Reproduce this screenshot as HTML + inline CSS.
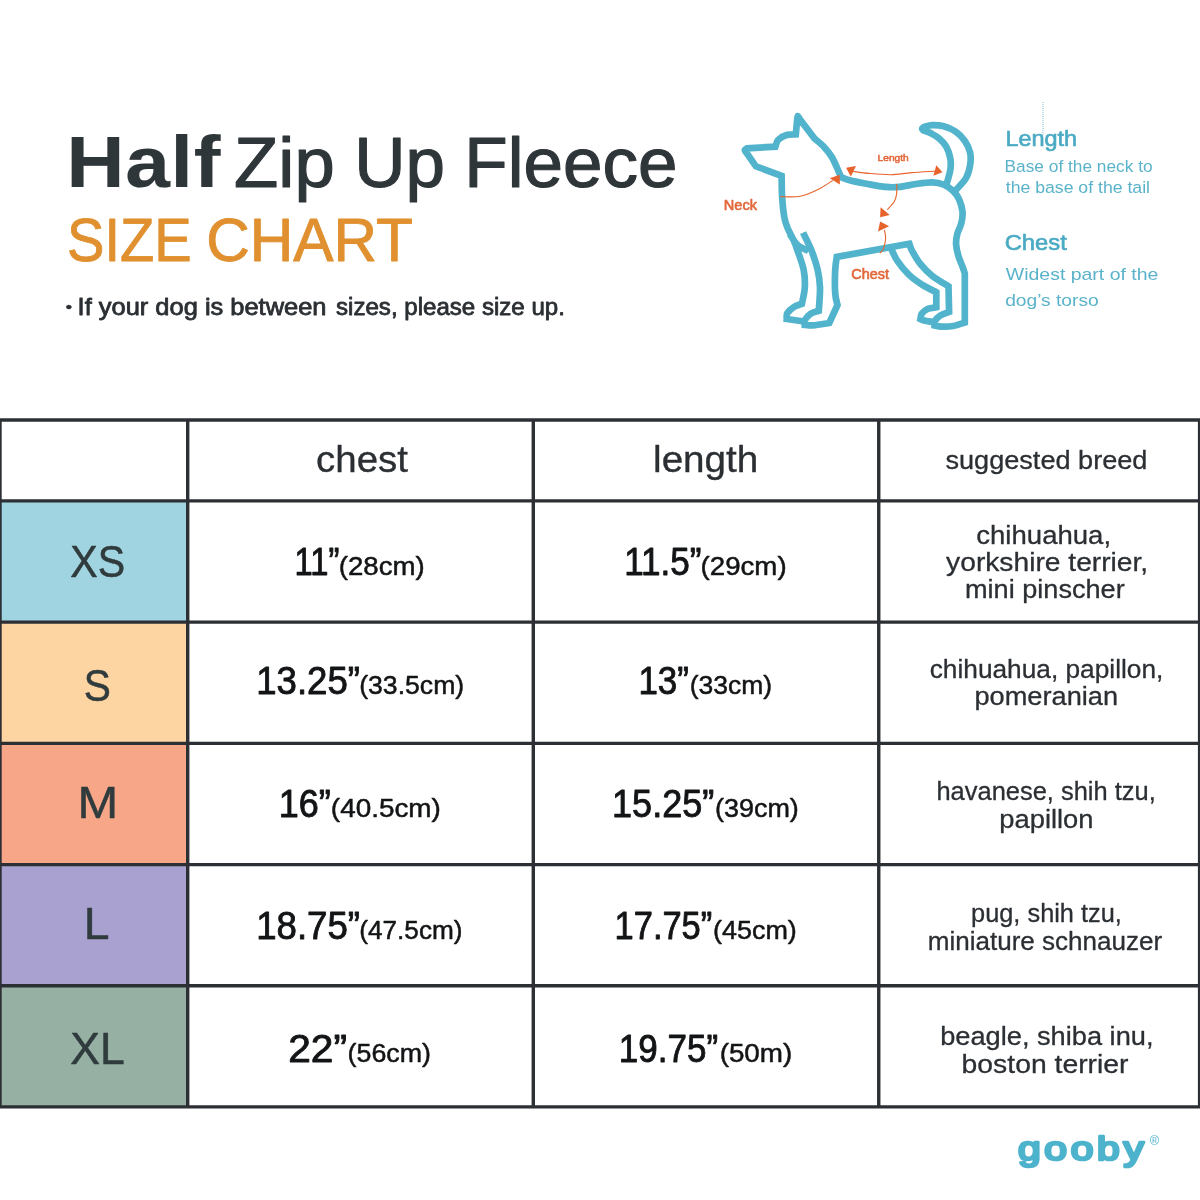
<!DOCTYPE html>
<html lang="en">
<head>
<meta charset="utf-8">
<title>Half Zip Up Fleece Size Chart</title>
<style>
html,body{margin:0;padding:0;background:#fff;}
body{width:1200px;height:1200px;overflow:hidden;position:relative;}
svg{position:absolute;left:0;top:0;display:block;}
text{font-family:"Liberation Sans",sans-serif;white-space:pre;}
.grid line{stroke:#2c2f33;stroke-width:3.4;}
</style>
</head>
<body>
<svg width="1200" height="1200" viewBox="0 0 1200 1200">
<rect width="1200" height="1200" fill="#ffffff"/>
<g class="grid"><rect x="0" y="500.9" width="187.7" height="121.20" fill="#a0d4e1"/><rect x="0" y="622.1" width="187.7" height="121.25" fill="#fdd5a2"/><rect x="0" y="743.35" width="187.7" height="121.25" fill="#f7a688"/><rect x="0" y="864.6" width="187.7" height="121.20" fill="#a9a1d0"/><rect x="0" y="985.8" width="187.7" height="121.10" fill="#96b0a4"/><line x1="-2" x2="1202" y1="420" y2="420"/><line x1="-2" x2="1202" y1="500.9" y2="500.9"/><line x1="-2" x2="1202" y1="622.1" y2="622.1"/><line x1="-2" x2="1202" y1="743.35" y2="743.35"/><line x1="-2" x2="1202" y1="864.6" y2="864.6"/><line x1="-2" x2="1202" y1="985.8" y2="985.8"/><line x1="-2" x2="1202" y1="1106.9" y2="1106.9"/><line x1="0" x2="0" y1="420" y2="1106.9"/><line x1="187.7" x2="187.7" y1="420" y2="1106.9"/><line x1="533.3" x2="533.3" y1="420" y2="1106.9"/><line x1="878.75" x2="878.75" y1="420" y2="1106.9"/><line x1="1199.6" x2="1199.6" y1="420" y2="1106.9"/></g>
<line x1="1043" x2="1043" y1="102" y2="136" stroke="#7cc4d6" stroke-width="1" stroke-dasharray="1 1"/>
<path transform="translate(0.5 0)" d="M803.5,321.5L786.3,319.0C786.4,318.0 785.5,315.2 786.8,313.2C788.0,311.2 791.4,308.4 793.8,306.8C796.2,305.2 800.1,304.3 801.4,303.8C801.9,301.1 804.0,293.1 804.3,287.5C804.6,281.9 804.4,276.0 803.2,270.0C802.0,264.0 799.0,256.3 797.3,251.3C795.6,246.3 794.7,243.8 793.0,240.0C791.3,236.2 788.8,232.2 787.2,228.3C785.7,224.4 784.6,221.9 783.7,216.7C782.8,211.4 782.0,203.6 781.6,196.8C781.2,190.0 781.2,179.3 781.1,175.8L755.4,166.3L746.3,153.2C746.0,152.7 744.2,151.0 744.3,150.2C744.3,149.4 746.2,148.6 746.6,148.3L774.9,146.7C775.4,145.5 775.9,141.6 777.8,139.7C779.6,137.8 783.1,135.9 786.0,135.0C788.9,134.1 793.8,134.5 795.3,134.4L796.7,119.6C796.8,119.0 796.9,116.2 797.3,116.1C797.7,116.0 798.7,118.3 799.0,118.8L814.0,138.5C815.5,139.9 820.4,143.6 823.3,146.7C826.2,149.8 829.0,152.9 831.5,157.2C834.0,161.5 837.0,169.0 838.5,172.3C840.0,175.6 840.0,176.2 840.3,177.0C841.9,177.6 845.5,179.3 850.0,180.5C854.5,181.7 861.7,182.9 867.5,184.0C873.3,185.1 879.8,186.4 885.0,186.9C890.2,187.4 894.0,187.4 899.0,186.9C904.0,186.4 909.8,184.8 915.3,184.0C920.8,183.2 927.0,182.2 931.7,182.3C936.4,182.4 939.8,183.2 943.3,184.6C946.8,186.0 950.2,188.6 952.7,191.0C955.2,193.4 957.0,195.8 958.5,199.2C960.0,202.6 961.6,207.7 962.0,211.7C962.4,215.7 961.7,219.6 960.8,223.3C959.9,227.0 957.7,230.3 956.8,233.8C955.9,237.3 955.4,240.6 955.6,244.3C955.8,248.0 956.8,252.3 957.9,256.0C959.0,259.7 960.9,263.6 962.0,266.5C963.1,269.4 963.9,272.3 964.3,273.5L964.3,322.5C962.4,323.1 956.6,325.3 952.7,326.0C948.8,326.7 944.1,326.7 941.0,326.6C937.9,326.5 935.2,325.6 934.0,325.4C934.0,324.7 933.0,322.9 934.0,321.3C935.0,319.7 937.4,317.1 939.8,315.5C942.2,313.9 947.1,312.6 948.6,312.0L948.0,286.3C945.3,284.6 936.4,279.5 931.7,275.8C927.0,272.1 923.3,268.3 920.0,264.2C916.7,260.1 913.7,254.7 911.8,251.3C909.9,247.9 909.3,245.1 908.8,243.8L836.3,256.9C836.0,259.1 835.0,263.9 834.7,270.0C834.4,276.1 834.3,287.5 834.7,293.3C835.1,299.1 836.6,303.1 837.0,305.0L828.8,323.0C826.1,323.4 816.6,325.1 812.5,325.4C808.4,325.7 805.7,324.9 804.3,324.8C804.3,324.0 803.3,322.0 804.3,320.2C805.3,318.4 807.9,315.4 810.2,313.8C812.5,312.2 816.9,311.3 818.3,310.8C818.5,306.9 819.7,294.3 819.5,287.5C819.3,280.7 818.6,276.0 817.2,270.0C815.8,264.0 813.7,257.5 811.3,251.3C808.9,245.1 804.0,235.8 802.6,232.7M789.2,233.8C790.5,235.7 793.9,242.1 797.0,245.0C800.1,247.9 806.2,250.0 808.0,251.0M890.8,249.0C891.8,250.9 893.8,256.4 896.7,260.7C899.6,265.0 904.0,270.6 908.3,274.7C912.6,278.8 917.7,282.3 922.3,285.2C926.9,288.1 933.5,291.0 935.8,292.2L935.8,307.3C934.3,307.6 929.4,307.9 927.0,309.0C924.6,310.1 922.4,312.1 921.2,313.8C920.0,315.5 920.2,318.1 920.0,319.0C920.8,319.3 922.2,320.2 924.7,320.8C927.2,321.4 933.5,322.2 935.2,322.5M945.8,185.0C946.5,182.5 949.1,174.4 949.8,170.0C950.5,165.6 950.5,162.2 949.8,158.3C949.1,154.4 947.6,150.0 945.7,146.7C943.9,143.4 941.2,140.7 938.7,138.5C936.2,136.3 933.1,134.7 930.5,133.3C927.9,131.9 924.2,130.8 922.9,130.3C922.7,130.0 921.5,129.2 921.6,128.6C921.7,128.0 923.2,127.3 923.5,127.0C924.9,126.7 928.4,125.2 931.7,125.1C935.0,125.0 939.4,125.2 943.3,126.3C947.2,127.4 951.5,129.1 955.0,131.5C958.5,133.9 961.9,137.3 964.3,140.8C966.7,144.3 968.7,148.4 969.6,152.5C970.5,156.6 970.3,161.0 969.6,165.3C968.9,169.6 967.9,174.0 965.5,178.2C963.1,182.4 956.8,188.4 955.0,190.4" fill="none" stroke="#51b4cc" stroke-width="6.7" stroke-linejoin="miter" stroke-miterlimit="3" stroke-linecap="butt"/>
<path d="M780.2,196.6C783.5,196.6 793.8,197.4 800.0,196.3C806.2,195.2 812.0,192.4 817.5,189.8C823.0,187.2 830.2,182.1 832.7,180.5" fill="none" stroke="#e8632b" stroke-width="1.1"/><polygon points="829.8,178.2 839.7,174.7 839.9,184.6" fill="#e8632b"/><path d="M852.0,171.2C855.0,171.6 863.5,172.9 870.0,173.5C876.5,174.1 883.8,174.8 890.8,174.7C897.8,174.5 904.3,173.2 912.0,172.6C919.7,172.0 932.8,171.3 937.0,171.0" fill="none" stroke="#e8632b" stroke-width="1.1"/><polygon points="846.1,167.7 856.0,165.9 850.8,176.4" fill="#e8632b"/><polygon points="933.4,175.8 936.3,165.3 942.4,172.3" fill="#e8632b"/><path d="M896.7,184.0C896.7,185.6 897.1,190.4 896.7,193.3C896.3,196.2 895.9,198.8 894.3,201.5C892.7,204.2 888.5,208.3 887.3,209.7" fill="none" stroke="#e8632b" stroke-width="1.1"/><polygon points="880.6,207.3 889.7,214.9 880.1,217.3" fill="#e8632b"/><path d="M884.4,229.8C884.6,231.2 885.8,235.3 885.6,238.5C885.4,241.7 884.3,246.6 883.3,249.0C882.3,251.4 880.4,252.4 879.8,253.1" fill="none" stroke="#e8632b" stroke-width="1.1"/><polygon points="880.1,221.6 889.1,226.3 878.0,231.5" fill="#e8632b"/>
<g>
<text transform="translate(66.44 187.40) scale(1.0998 1)" font-size="73" fill="#2f363a" font-weight="700" letter-spacing="0.711" stroke="#2f363a" stroke-width="0.2" stroke-linejoin="round">Half</text>
<text transform="translate(234.10 186.90) scale(1.0206 1)" font-size="71" fill="#2f363a" stroke="#2f363a" stroke-width="1.2" stroke-linejoin="round">Zip</text>
<text x="354.30" y="186.90" font-size="71" fill="#2f363a" stroke="#2f363a" stroke-width="1.2" stroke-linejoin="round">Up</text>
<text x="464.36" y="186.90" font-size="71" fill="#2f363a" stroke="#2f363a" stroke-width="1.2" stroke-linejoin="round">Fleece</text>
<text transform="translate(67.05 261.40) scale(0.9057 1)" font-size="61.9" fill="#e0902f" stroke="#e0902f" stroke-width="0.9" stroke-linejoin="round">SIZE</text>
<text transform="translate(206.20 261.40) scale(0.9745 1)" font-size="61.9" fill="#e0902f" stroke="#e0902f" stroke-width="0.9" stroke-linejoin="round">CHART</text>
<text transform="translate(65.55 311.60) scale(1.2750 1)" font-size="15" fill="#2b2f33" stroke="#2b2f33" stroke-width="0.3" stroke-linejoin="round">•</text>
<text transform="translate(77.61 315.00) scale(1.0785 1)" font-size="23.6" fill="#2b2f33" stroke="#2b2f33" stroke-width="0.8" stroke-linejoin="round">If your dog is between</text>
<text transform="translate(336.06 315.00) scale(1.0207 1)" font-size="23.6" fill="#2b2f33" stroke="#2b2f33" stroke-width="0.8" stroke-linejoin="round">sizes, please size up.</text>
<text transform="translate(723.83 209.50) scale(1.0407 1)" font-size="14" fill="#e2673a" stroke="#e2673a" stroke-width="0.6" stroke-linejoin="round">Neck</text>
<text transform="translate(851.33 278.50) scale(1.0330 1)" font-size="14" fill="#e2673a" stroke="#e2673a" stroke-width="0.6" stroke-linejoin="round">Chest</text>
<text transform="translate(877.60 161.20) scale(1.1330 1)" font-size="9" fill="#e2673a" stroke="#e2673a" stroke-width="0.5" stroke-linejoin="round">Length</text>
<text transform="translate(1005.41 145.60) scale(1.0768 1)" font-size="21.8" fill="#4aaac3" stroke="#4aaac3" stroke-width="0.6" stroke-linejoin="round">Length</text>
<text transform="translate(1004.56 172.00) scale(1.0485 1)" font-size="16.5" fill="#5ab3ca">Base of the neck to</text>
<text transform="translate(1005.73 193.00) scale(1.0712 1)" font-size="16.5" fill="#5ab3ca">the base of the tail</text>
<text transform="translate(1004.67 249.60) scale(1.0930 1)" font-size="21.8" fill="#4aaac3" stroke="#4aaac3" stroke-width="0.6" stroke-linejoin="round">Chest</text>
<text transform="translate(1005.86 279.60) scale(1.1452 1)" font-size="17" fill="#5ab3ca">Widest part of the</text>
<text transform="translate(1005.15 306.00) scale(1.1306 1)" font-size="17" fill="#5ab3ca">dog’s torso</text>
<text transform="translate(316.11 472.30) scale(1.0442 1)" font-size="36.8" fill="#2b2f33" stroke="#2b2f33" stroke-width="0.35" stroke-linejoin="round">chest</text>
<text transform="translate(653.05 472.30) scale(1.0497 1)" font-size="36.8" fill="#2b2f33" stroke="#2b2f33" stroke-width="0.35" stroke-linejoin="round">length</text>
<text transform="translate(945.47 468.80) scale(1.0431 1)" font-size="26" fill="#2b2f33" stroke="#2b2f33" stroke-width="0.3" stroke-linejoin="round">suggested breed</text>
<text transform="translate(70.31 577.30) scale(0.9417 1)" font-size="43.6" fill="#2f3b3c" stroke="#2f3b3c" stroke-width="0.5" stroke-linejoin="round">XS</text>
<text transform="translate(83.79 700.80) scale(0.9319 1)" font-size="43.6" fill="#2f3b3c" stroke="#2f3b3c" stroke-width="0.5" stroke-linejoin="round">S</text>
<text transform="translate(77.49 817.70) scale(1.1200 1)" font-size="43.6" fill="#2f3b3c" stroke="#2f3b3c" stroke-width="0.5" stroke-linejoin="round">M</text>
<text transform="translate(83.81 938.70) scale(1.0603 1)" font-size="43.6" fill="#2f3b3c" stroke="#2f3b3c" stroke-width="0.5" stroke-linejoin="round">L</text>
<text transform="translate(70.23 1064.30) scale(1.0202 1)" font-size="43.6" fill="#2f3b3c" stroke="#2f3b3c" stroke-width="0.5" stroke-linejoin="round">XL</text>
<text transform="translate(294.52 574.60) scale(0.8461 1)" font-size="38.7" fill="#121416" stroke="#121416" stroke-width="0.9" stroke-linejoin="round">11”</text>
<text transform="translate(338.76 574.60) scale(1.0383 1)" font-size="26.6" fill="#121416" stroke="#121416" stroke-width="0.5" stroke-linejoin="round">(28cm)</text>
<text transform="translate(256.23 693.60) scale(0.9461 1)" font-size="38.7" fill="#121416" stroke="#121416" stroke-width="0.9" stroke-linejoin="round">13.25”</text>
<text x="359.23" y="693.60" font-size="26.6" fill="#121416" stroke="#121416" stroke-width="0.5" stroke-linejoin="round">(33.5cm)</text>
<text transform="translate(278.78 817.20) scale(0.9307 1)" font-size="38.7" fill="#121416" stroke="#121416" stroke-width="0.9" stroke-linejoin="round">16”</text>
<text transform="translate(330.85 817.20) scale(1.0487 1)" font-size="26.6" fill="#121416" stroke="#121416" stroke-width="0.5" stroke-linejoin="round">(40.5cm)</text>
<text transform="translate(256.23 938.50) scale(0.9461 1)" font-size="38.7" fill="#121416" stroke="#121416" stroke-width="0.9" stroke-linejoin="round">18.75”</text>
<text transform="translate(359.25 938.50) scale(0.9847 1)" font-size="26.6" fill="#121416" stroke="#121416" stroke-width="0.5" stroke-linejoin="round">(47.5cm)</text>
<text transform="translate(288.18 1061.60) scale(1.0516 1)" font-size="38.7" fill="#121416" stroke="#121416" stroke-width="0.9" stroke-linejoin="round">22”</text>
<text transform="translate(347.61 1061.60) scale(1.0082 1)" font-size="26.6" fill="#121416" stroke="#121416" stroke-width="0.5" stroke-linejoin="round">(56cm)</text>
<text transform="translate(624.15 574.60) scale(0.9072 1)" font-size="38.7" fill="#121416" stroke="#121416" stroke-width="0.9" stroke-linejoin="round">11.5”</text>
<text transform="translate(700.56 574.60) scale(1.0409 1)" font-size="26.6" fill="#121416" stroke="#121416" stroke-width="0.5" stroke-linejoin="round">(29cm)</text>
<text transform="translate(638.46 693.60) scale(0.9016 1)" font-size="38.7" fill="#121416" stroke="#121416" stroke-width="0.9" stroke-linejoin="round">13”</text>
<text transform="translate(689.63 693.60) scale(0.9956 1)" font-size="26.6" fill="#121416" stroke="#121416" stroke-width="0.5" stroke-linejoin="round">(33cm)</text>
<text transform="translate(612.07 817.20) scale(0.9319 1)" font-size="38.7" fill="#121416" stroke="#121416" stroke-width="0.9" stroke-linejoin="round">15.25”</text>
<text transform="translate(715.01 817.20) scale(1.0132 1)" font-size="26.6" fill="#121416" stroke="#121416" stroke-width="0.5" stroke-linejoin="round">(39cm)</text>
<text transform="translate(614.59 938.50) scale(0.8901 1)" font-size="38.7" fill="#121416" stroke="#121416" stroke-width="0.9" stroke-linejoin="round">17.75”</text>
<text transform="translate(713.01 938.50) scale(1.0132 1)" font-size="26.6" fill="#121416" stroke="#121416" stroke-width="0.5" stroke-linejoin="round">(45cm)</text>
<text transform="translate(618.85 1061.60) scale(0.9044 1)" font-size="38.7" fill="#121416" stroke="#121416" stroke-width="0.9" stroke-linejoin="round">19.75”</text>
<text transform="translate(719.65 1061.60) scale(1.0455 1)" font-size="26.6" fill="#121416" stroke="#121416" stroke-width="0.5" stroke-linejoin="round">(50m)</text>
<text transform="translate(976.26 543.50) scale(1.0602 1)" font-size="26" fill="#2b2f33" stroke="#2b2f33" stroke-width="0.3" stroke-linejoin="round">chihuahua,</text>
<text transform="translate(946.11 570.70) scale(1.0850 1)" font-size="26" fill="#2b2f33" stroke="#2b2f33" stroke-width="0.3" stroke-linejoin="round">yorkshire terrier,</text>
<text transform="translate(965.02 598.10) scale(1.0430 1)" font-size="26" fill="#2b2f33" stroke="#2b2f33" stroke-width="0.3" stroke-linejoin="round">mini pinscher</text>
<text transform="translate(929.71 678.10) scale(1.0106 1)" font-size="26" fill="#2b2f33" stroke="#2b2f33" stroke-width="0.3" stroke-linejoin="round">chihuahua, papillon,</text>
<text transform="translate(974.45 704.80) scale(1.0463 1)" font-size="26" fill="#2b2f33" stroke="#2b2f33" stroke-width="0.3" stroke-linejoin="round">pomeranian</text>
<text transform="translate(936.44 800.10) scale(0.9795 1)" font-size="26" fill="#2b2f33" stroke="#2b2f33" stroke-width="0.3" stroke-linejoin="round">havanese, shih tzu,</text>
<text transform="translate(999.34 827.90) scale(1.0504 1)" font-size="26" fill="#2b2f33" stroke="#2b2f33" stroke-width="0.3" stroke-linejoin="round">papillon</text>
<text transform="translate(971.06 921.90) scale(0.9758 1)" font-size="26" fill="#2b2f33" stroke="#2b2f33" stroke-width="0.3" stroke-linejoin="round">pug, shih tzu,</text>
<text transform="translate(927.70 950.30) scale(1.0022 1)" font-size="26" fill="#2b2f33" stroke="#2b2f33" stroke-width="0.3" stroke-linejoin="round">miniature schnauzer</text>
<text transform="translate(940.15 1045.20) scale(1.0472 1)" font-size="26" fill="#2b2f33" stroke="#2b2f33" stroke-width="0.3" stroke-linejoin="round">beagle, shiba inu,</text>
<text transform="translate(961.58 1073.00) scale(1.0898 1)" font-size="26" fill="#2b2f33" stroke="#2b2f33" stroke-width="0.3" stroke-linejoin="round">boston terrier</text>
<text transform="translate(1018.00 1160.30) scale(1.2000 1)" font-size="34" fill="#4db3cc" letter-spacing="3.052" stroke="#4db3cc" stroke-width="2.7" stroke-linejoin="round">gooby</text>
<text transform="translate(1149.87 1145.00) scale(1.0588 1)" font-size="12" fill="#4db3cc">®</text>
</g>
</svg>
</body>
</html>
